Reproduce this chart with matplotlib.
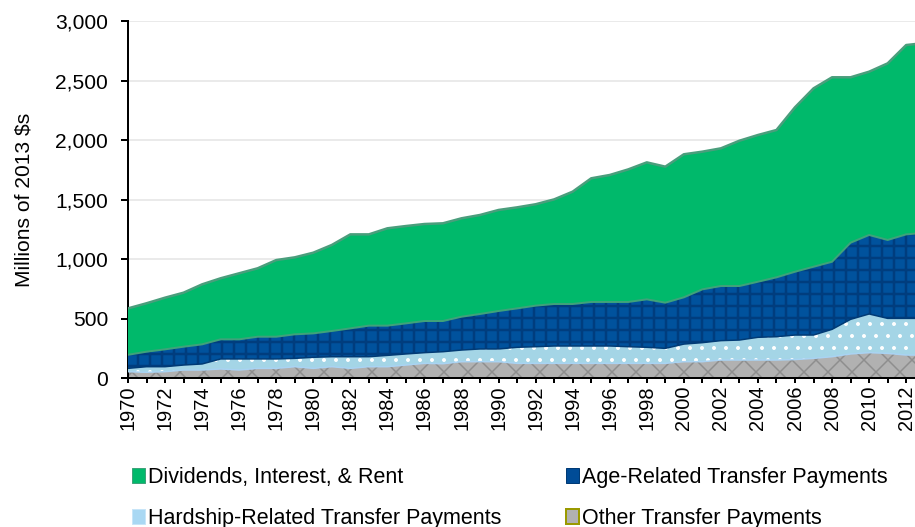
import matplotlib
matplotlib.use('Agg')
import matplotlib.pyplot as plt
from matplotlib.patches import Patch
from matplotlib.ticker import FuncFormatter, MultipleLocator
import numpy as np

# Datos (millones de dolares de 2013), 1970-2013
years = list(range(1970, 2014))

other = [53, 48, 53, 67, 67, 76, 67, 81, 81, 95, 81, 95, 81, 95, 95, 109, 123, 120,
         137, 137, 137, 123, 123, 123, 123, 123, 123, 123, 123, 123, 137, 137, 151, 151,
         151, 151, 155, 165, 179, 202, 213, 207, 193, 193]

hardship = [28, 47, 42, 42, 51, 84, 93, 79, 79, 70, 93, 84, 98, 84, 95, 93, 90, 101,
            98, 107, 107, 135, 140, 146, 146, 146, 146, 140, 135, 126, 148, 160, 163, 168,
            191, 196, 206, 196, 230, 291, 325, 294, 308, 308]

age = [114, 126, 146, 154, 165, 165, 165, 187, 187, 202, 201, 216, 238, 261, 250, 257,
       266, 258, 280, 294, 319, 327, 345, 353, 353, 370, 370, 376, 403, 384, 393, 448,
       459, 454, 467, 499, 532, 574, 568, 644, 664, 659, 706, 719]

dividends = [390, 407, 434, 454, 504, 513, 555, 575, 644, 647, 678, 723, 790, 767, 818,
             818, 815, 821, 827, 832, 849, 849, 852, 879, 944, 1039, 1067, 1114, 1151,
             1143, 1202, 1157, 1157, 1221, 1233, 1238, 1382, 1499, 1550, 1390, 1372, 1484,
             1591, 1595]

labels = ['Dividends, Interest, & Rent', 'Hardship-Related Transfer Payments',
          'Age-Related Transfer Payments', 'Other Transfer Payments']

plt.rcParams['font.family'] = ['Liberation Sans', 'DejaVu Sans']

fig = plt.figure(figsize=(915 / 72, 527 / 72), dpi=72)
ax = fig.add_axes([128 / 915, 149 / 527, 796.7 / 915, 357 / 527])

x = np.array(years)
b0 = np.zeros(len(years))
b1 = b0 + np.array(other)
b2 = b1 + np.array(hardship)
b3 = b2 + np.array(age)
b4 = b3 + np.array(dividends)

# Otras transferencias (gris con x)
ax.fill_between(x, b0, b1, facecolor='#B1B1B1', linewidth=0, zorder=2)
with plt.rc_context({'hatch.linewidth': 1.5}):
    ax.fill_between(x, b0, b1, facecolor='none', edgecolor='#8E8E8E', hatch='x',
                    linewidth=0, zorder=2)

# Transferencias por dificultad (celeste con puntos)
ax.fill_between(x, b1, b2, facecolor='#A4D5E6', linewidth=0, zorder=3)
with plt.rc_context({'hatch.linewidth': 1.5}):
    ax.fill_between(x, b1, b2, facecolor='none', edgecolor='white', hatch='.',
                    linewidth=0, zorder=3)
ax.plot(x, b1, color='#A9D3F3', linewidth=1.5, zorder=3)

# Transferencias por edad (azul con cuadricula)
ax.fill_between(x, b2, b3, facecolor='#00529D', linewidth=0, zorder=4)
with plt.rc_context({'hatch.linewidth': 2.5}):
    ax.fill_between(x, b2, b3, facecolor='none', edgecolor='#003D7E', hatch='+',
                    linewidth=0, zorder=4)
ax.plot(x, b2, color='#003A75', linewidth=1.5, zorder=4)

# Dividendos, intereses y rentas (verde)
ax.fill_between(x, b3, b4, facecolor='#00B96B', linewidth=0, zorder=5)
ax.plot(x, b3, color='#3FA27A', linewidth=2, zorder=5)
ax.plot(x, b4, color='#4A9E7C', linewidth=2.5, zorder=5)

# Ejes
ax.set_xlim(1970, 2013)
ax.set_ylim(0, 3000)
ax.yaxis.set_major_locator(MultipleLocator(500))
ax.yaxis.set_major_formatter(FuncFormatter(lambda v, p: f'{int(v):,}'))
ax.set_xticks(range(1970, 2013, 2))
ax.set_xticks(range(1970, 2014), minor=True)
ax.tick_params(axis='x', which='both', direction='out', length=5, width=2,
               labelsize=20, labelrotation=90, pad=2)
ax.tick_params(axis='y', direction='out', length=7, width=2, labelsize=21, pad=13)

ax.grid(axis='y', color='#EAEAEA', linewidth=2)
ax.set_axisbelow(True)
for s in ['top', 'right']:
    ax.spines[s].set_visible(False)
ax.spines['left'].set_linewidth(2)
ax.spines['bottom'].set_linewidth(2)
ax.spines['bottom'].set_zorder(6)

ax.set_ylabel('Millions of 2013 $s', fontsize=21, labelpad=22)

# Leyenda (la segunda fila queda cortada por el borde, igual que en el original)
handles = [Patch(facecolor='#00B96B', edgecolor='#3FA27A'),
           Patch(facecolor='#A9D8F3', edgecolor='#C7E5F8'),
           Patch(facecolor='#004C97', edgecolor='#003A75'),
           Patch(facecolor='#B1B1B1', edgecolor='#9A9A00', linewidth=2)]
fig.legend(handles, labels, ncol=2, loc='upper left',
           bbox_to_anchor=(132 / 915, 1 - 467 / 527), frameon=False,
           fontsize=21.5, handlelength=0.6, handleheight=0.7, handletextpad=0.15,
           columnspacing=3.0, labelspacing=0.95, borderpad=0, borderaxespad=0)

fig.savefig('out.png', dpi=72)
